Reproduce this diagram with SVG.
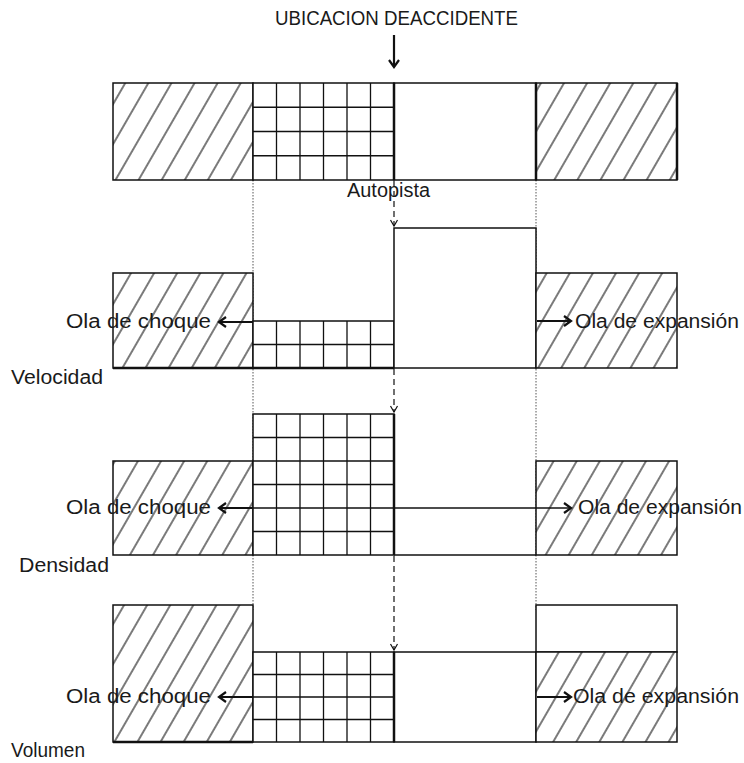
<svg xmlns="http://www.w3.org/2000/svg" width="744" height="763" viewBox="0 0 744 763">
<style>
.t{font-family:"Liberation Sans",Arial,sans-serif;font-size:20px;fill:#1a1a1a}
.o{fill:none;stroke:#111;stroke-width:1.5}
.w{fill:#fff;stroke:#111;stroke-width:1.5}
.h{fill:url(#hatch);stroke:#111;stroke-width:1.5}
.g{stroke:#111;stroke-width:1.3;fill:none}
.k{stroke:#111;stroke-width:2.5;fill:none}
.dot{stroke:#555;stroke-width:1;stroke-dasharray:1.5 1.5;fill:none}
.dash{stroke:#111;stroke-width:1.2;stroke-dasharray:6 4;fill:none}
.ar{stroke:#111;stroke-width:2.2;fill:none}
</style>
<defs>
<pattern id="hatch" patternUnits="userSpaceOnUse" width="20" height="20" patternTransform="rotate(30)">
<rect width="20" height="20" fill="#fff"/>
<line x1="10" y1="-2" x2="10" y2="22" stroke="#222" stroke-width="1.2"/>
</pattern>
<marker id="big" markerWidth="12" markerHeight="12" refX="9" refY="6" orient="auto" markerUnits="userSpaceOnUse">
<path d="M2,1 L9,6 L2,11" fill="none" stroke="#111" stroke-width="2.2"/>
</marker>
<marker id="sm" markerWidth="10" markerHeight="10" refX="8" refY="5" orient="auto" markerUnits="userSpaceOnUse">
<path d="M2,1.5 L8,5 L2,8.5" fill="none" stroke="#111" stroke-width="1.2"/>
</marker>
</defs>
<rect width="744" height="763" fill="#fff"/>

<g id="connectors">
<line class="dot" x1="253" y1="180" x2="253" y2="610"/>
<line class="dot" x1="536" y1="180" x2="536" y2="610"/>
<line class="dash" x1="394" y1="181" x2="394" y2="226" marker-end="url(#sm)"/>
<line class="dash" x1="394" y1="369" x2="394" y2="412" marker-end="url(#sm)"/>
<line class="dash" x1="394" y1="556" x2="394" y2="650" marker-end="url(#sm)"/>
</g>

<g id="title">
<text class="t" x="275" y="25" font-size="19.5" textLength="243" lengthAdjust="spacingAndGlyphs">UBICACION DEACCIDENTE</text>
<line class="ar" x1="394" y1="35" x2="394" y2="67" marker-end="url(#big)"/>
</g>

<g id="row-autopista">
<rect class="h" x="113" y="83" width="140" height="97"/>
<rect class="w" x="253" y="83" width="141" height="97"/>
<path class="g" d="M276.5,83V180M300,83V180M323.5,83V180M347,83V180M370.5,83V180M253,107.25H394M253,131.5H394M253,155.75H394"/>
<rect class="w" x="394" y="83" width="142" height="97"/>
<rect class="h" x="536" y="83" width="141" height="97"/>
<path class="k" d="M394,83V180M536,83V180M677,83V180" stroke-width="2"/>
<text class="t" x="347" y="197" textLength="83" lengthAdjust="spacingAndGlyphs">Autopista</text>
</g>

<g id="row-velocidad">
<rect class="h" x="113" y="273" width="140" height="95"/>
<rect class="w" x="253" y="321" width="141" height="47"/>
<path class="g" d="M276.5,321V368M300,321V368M323.5,321V368M347,321V368M370.5,321V368M253,344.5H394"/>
<rect class="w" x="394" y="228" width="142" height="140"/>
<rect class="h" x="536" y="273" width="141" height="95"/>
<path class="k" d="M113,368H394"/>
<line class="ar" x1="253" y1="322" x2="219" y2="322" marker-end="url(#big)"/>
<line class="ar" x1="537" y1="321" x2="571" y2="321" marker-end="url(#big)"/>
<text class="t" x="66" y="328" textLength="145" lengthAdjust="spacingAndGlyphs">Ola de choque</text>
<text class="t" x="575" y="328" textLength="164" lengthAdjust="spacingAndGlyphs">Ola de expansión</text>
<text class="t" x="11" y="384" textLength="92" lengthAdjust="spacingAndGlyphs">Velocidad</text>
</g>

<g id="row-densidad">
<rect class="h" x="113" y="461" width="140" height="94"/>
<rect class="w" x="253" y="414" width="141" height="141"/>
<path class="g" d="M276.5,414V555M300,414V555M323.5,414V555M347,414V555M370.5,414V555M253,437.5H394M253,461H394M253,484.5H394M253,508H394M253,531.5H394"/>
<rect class="h" x="536" y="461" width="141" height="94"/>
<path class="o" d="M394,555H536"/>
<path class="k" d="M394,414V555" stroke-width="2"/>
<line class="ar" x1="253" y1="508" x2="219" y2="508" marker-end="url(#big)"/>
<line class="g" x1="394" y1="508" x2="571" y2="508" marker-end="url(#big)" stroke-width="1.6"/>
<text class="t" x="66" y="514" textLength="145" lengthAdjust="spacingAndGlyphs">Ola de choque</text>
<text class="t" x="578" y="514" textLength="164" lengthAdjust="spacingAndGlyphs">Ola de expansión</text>
<text class="t" x="19" y="572" textLength="90" lengthAdjust="spacingAndGlyphs">Densidad</text>
</g>

<g id="row-volumen">
<rect class="h" x="113" y="605" width="140" height="137"/>
<rect class="w" x="253" y="652" width="141" height="90"/>
<path class="g" d="M276.5,652V742M300,652V742M323.5,652V742M347,652V742M370.5,652V742M253,674.5H394M253,697H394M253,719.5H394"/>
<rect class="w" x="394" y="652" width="142" height="90"/>
<rect class="w" x="536" y="605" width="141" height="47"/>
<rect class="h" x="536" y="652" width="141" height="90"/>
<path class="k" d="M113,742H253"/>
<path class="k" d="M394,652V742" stroke-width="2"/>
<line class="ar" x1="253" y1="697" x2="219" y2="697" marker-end="url(#big)" stroke-width="1.6"/>
<line class="ar" x1="537" y1="697" x2="571" y2="697" marker-end="url(#big)"/>
<text class="t" x="66" y="703" textLength="145" lengthAdjust="spacingAndGlyphs">Ola de choque</text>
<text class="t" x="573" y="703" textLength="166" lengthAdjust="spacingAndGlyphs">Ola de expansión</text>
<text class="t" x="11" y="757" textLength="74" lengthAdjust="spacingAndGlyphs">Volumen</text>
</g>
</svg>
